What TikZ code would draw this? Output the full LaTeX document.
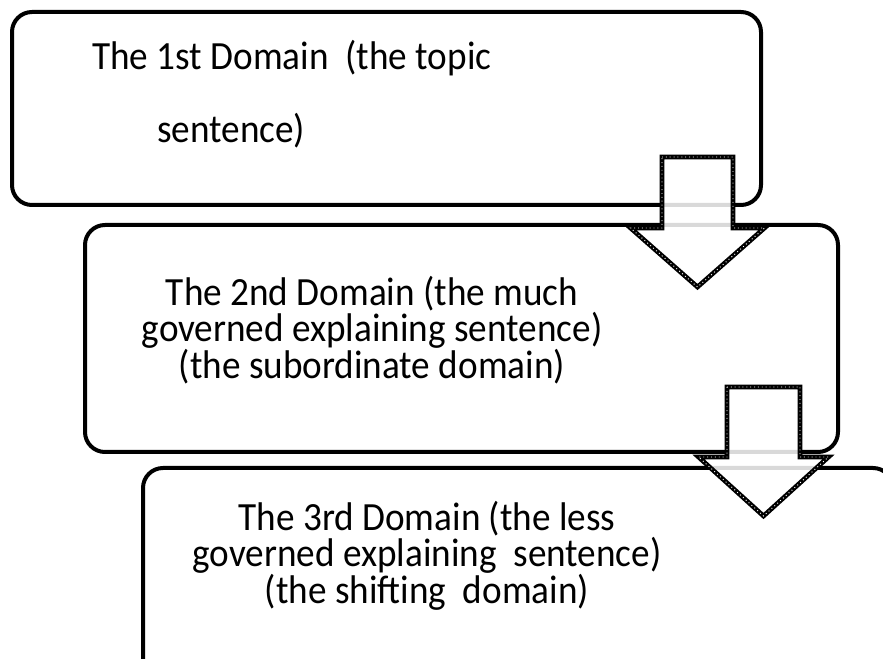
\documentclass[tikz,border=0pt]{standalone}
\usepackage{fontspec}
\setmainfont{Carlito}[FakeStretch=0.93]
\usetikzlibrary{positioning}

\begin{document}
\begin{tikzpicture}[x=0.75pt, y=-0.75pt,
    domainbox/.style={rectangle, draw, line width=3pt, rounded corners=15pt, inner sep=0pt},
    domtext/.style={font=\fontsize{30}{25}\selectfont, align=center, inner sep=0pt},
    blockarrow/.style={draw, line width=3.5pt, line join=miter, fill=white, fill opacity=0.85,
        postaction={draw=white, line width=0.7pt, dash pattern=on 0.7pt off 2.2pt}}
]
\useasboundingbox (0,0) rectangle (883,659);
\clip (0,0) rectangle (883,659);

% the three domains
\node[domainbox, minimum width=561.75pt, minimum height=144.75pt] (d1) at (386.5,108.5) {};
\node[domainbox, minimum width=564.75pt, minimum height=170.25pt] (d2) at (461.5,338.5) {};
\node[domainbox, minimum width=562.5pt, minimum height=170.25pt] (d3) at (518,581.5) {};

\node[domtext, anchor=base west] (t1a) at (92,70) {The 1st Domain\ \ (the topic};
\node[domtext, anchor=base west] (t1b) at (157,143) {sentence)};
\node[domtext] (t2) at (372,330) {The 2nd Domain (the much\\governed explaining sentence)\\(the subordinate domain)};
\node[domtext] (t3) at (427,556) {The 3rd Domain (the less\\governed explaining\ \ sentence)\\(the shifting\ \ domain)};

% block arrows between the domains
\coordinate (a1) at (697.5,157);
\coordinate (a2) at (763.5,387);
\draw[blockarrow] (a1) ++(-35.5,0) -- ++(71,0) -- ++(0,71) -- ++(31.5,0) -- ++(-67,59) -- ++(-67,-59) -- ++(31.5,0) -- cycle;
\draw[blockarrow] (a2) ++(-36.5,0) -- ++(73,0) -- ++(0,70) -- ++(28.5,0) -- ++(-65,59) -- ++(-65,-59) -- ++(28.5,0) -- cycle;
\end{tikzpicture}
\end{document}
